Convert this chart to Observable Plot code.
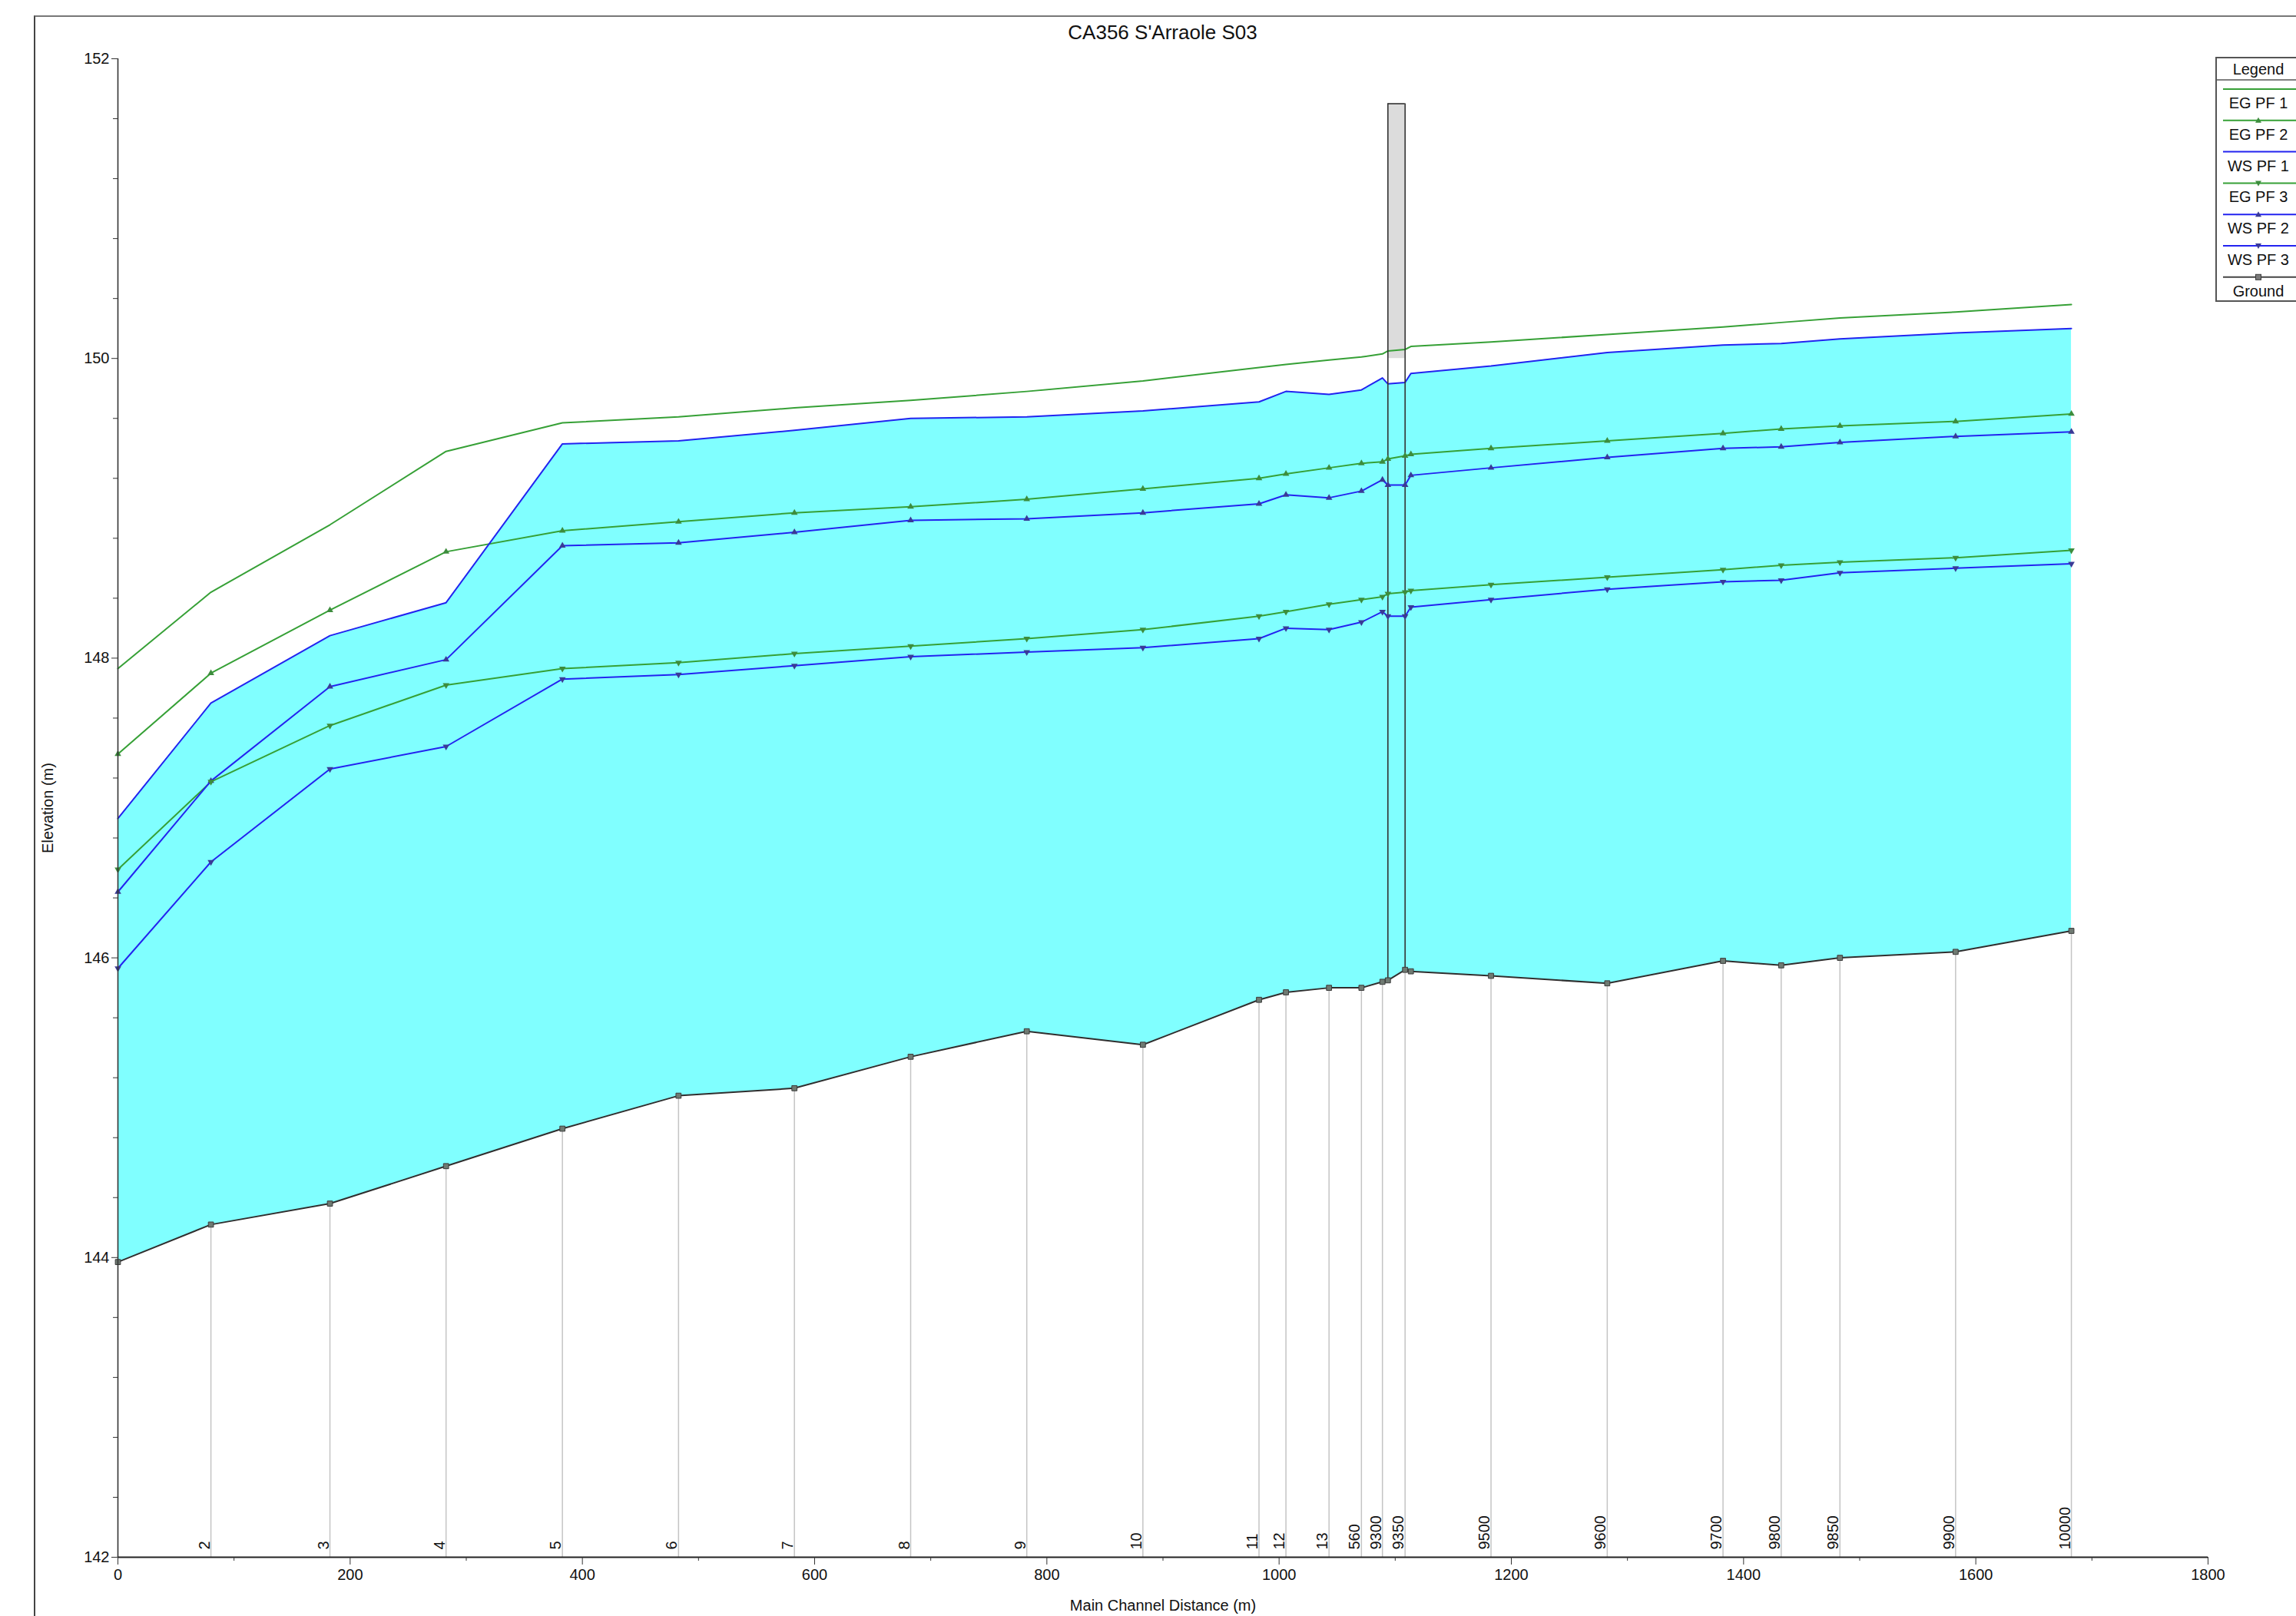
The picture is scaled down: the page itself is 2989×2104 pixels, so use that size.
<!DOCTYPE html>
<html><head><meta charset="utf-8">
<script src="https://cdn.jsdelivr.net/npm/d3@7"></script>
<script src="https://cdn.jsdelivr.net/npm/@observablehq/plot@0.6"></script>
<style>
html,body{margin:0;padding:0;background:#fff;overflow:hidden;}
#page{position:relative;width:2989px;height:2104px;overflow:hidden;font-family:"Liberation Sans",Arial,sans-serif;background:#fff;}
#frame{position:absolute;left:44px;top:20px;width:3000px;height:2200px;border-left:2px solid #444;border-top:2px solid #777;}
#title{position:absolute;left:153px;width:2721px;top:27px;text-align:center;font-size:26px;line-height:30px;color:#111;}
#chart{position:absolute;left:0;top:56px;}
#legend{position:absolute;left:2884px;top:74px;}
</style></head><body>
<div id="page"><div id="frame"></div><div id="title"></div><div id="chart"></div><div id="legend"></div></div>
<script>
// ---- data ----
const titleText = "CA356 S'Arraole S03";
const distance = [0, 80.1, 182.6, 282.6, 382.8, 482.8, 582.6, 682.7, 782.7, 882.7, 982.7, 1005.9, 1043.0, 1070.9, 1089.0, 1093.7, 1108.5, 1113.5, 1182.5, 1282.6, 1382.3, 1432.4, 1483.0, 1582.6, 1682.3];
const sectionLabel = ["", "2", "3", "4", "5", "6", "7", "8", "9", "10", "11", "12", "13", "560", "9300", "", "9350", "", "9500", "9600", "9700", "9800", "9850", "9900", "10000"];
const ground = [143.97, 144.22, 144.36, 144.61, 144.86, 145.08, 145.13, 145.34, 145.51, 145.42, 145.72, 145.77, 145.80, 145.80, 145.84, 145.85, 145.92, 145.91, 145.88, 145.83, 145.98, 145.95, 146.00, 146.04, 146.18];
const egPF1 = [147.93, 148.44, 148.89, 149.38, 149.57, 149.61, 149.67, 149.72, 149.78, 149.85, 149.94, 149.96, 149.99, 150.01, 150.03, 150.05, 150.06, 150.08, 150.11, 150.16, 150.21, 150.24, 150.27, 150.31, 150.36];
const wsPF1 = [146.93, 147.70, 148.15, 148.37, 149.43, 149.45, 149.52, 149.60, 149.61, 149.65, 149.71, 149.78, 149.76, 149.79, 149.87, 149.83, 149.84, 149.90, 149.95, 150.04, 150.09, 150.10, 150.13, 150.17, 150.20];
const egPF2 = [147.36, 147.90, 148.32, 148.71, 148.85, 148.91, 148.97, 149.01, 149.06, 149.13, 149.20, 149.23, 149.27, 149.30, 149.31, 149.33, 149.35, 149.36, 149.40, 149.45, 149.50, 149.53, 149.55, 149.58, 149.63];
const wsPF2 = [146.44, 147.18, 147.81, 147.99, 148.75, 148.77, 148.84, 148.92, 148.93, 148.97, 149.03, 149.09, 149.07, 149.115, 149.19, 149.155, 149.155, 149.22, 149.27, 149.34, 149.40, 149.41, 149.44, 149.48, 149.51];
const egPF3 = [146.59, 147.175, 147.55, 147.82, 147.93, 147.97, 148.03, 148.08, 148.13, 148.19, 148.28, 148.31, 148.36, 148.39, 148.41, 148.43, 148.44, 148.45, 148.49, 148.54, 148.59, 148.62, 148.64, 148.67, 148.72];
const wsPF3 = [145.93, 146.64, 147.26, 147.41, 147.86, 147.89, 147.95, 148.01, 148.04, 148.07, 148.13, 148.20, 148.19, 148.24, 148.31, 148.28, 148.28, 148.34, 148.39, 148.46, 148.51, 148.52, 148.57, 148.60, 148.63];
const bridgeFaces = [1093.7, 1108.5];      // upstream / downstream face distance
const bridgeChords = [150.0, 151.7];       // low chord, high chord
const bridgeGround = [145.85, 145.92];
const yMajorTicks = [142, 144, 146, 148, 150, 152];
const xMajorTicks = [0, 200, 400, 600, 800, 1000, 1200, 1400, 1600, 1800];
const legendNames = ["EG PF 1", "EG PF 2", "WS PF 1", "EG PF 3", "WS PF 2", "WS PF 3", "Ground"];

// ---- styles ----
const GREEN = "#36a036", BLUE = "#2323f0", GROUND = "#2e2e2e";
const GMARK = "#3d8c3d", BMARK = "#3a3a96";

const rows = distance.map((d, i) => ({
  d, label: sectionLabel[i], ground: ground[i],
  eg1: egPF1[i], ws1: wsPF1[i], eg2: egPF2[i], ws2: wsPF2[i], eg3: egPF3[i], ws3: wsPF3[i]
}));
const labeled = rows.filter(r => r.label !== "");
const bridge = [{x1: bridgeFaces[0], x2: bridgeFaces[1], low: bridgeChords[0], high: bridgeChords[1]}];
const faces = bridgeFaces.map((x, i) => ({x, g: bridgeGround[i], top: bridgeChords[1]}));

document.getElementById("title").textContent = titleText;

const yMinor = d3.range(0, 26).map(i => 142 + i * 0.4).filter(v => !yMajorTicks.some(t => Math.abs(t - v) < 1e-6));
const xMinor = d3.range(100, 1800, 200);

const chart = Plot.plot({
  width: 2989, height: 2048,
  marginLeft: 153, marginRight: 115, marginTop: 20, marginBottom: 77,
  x: {domain: [0, 1800]},
  y: {domain: [142, 152]},
  style: {fontFamily: "'Liberation Sans', Arial, sans-serif", fontSize: "20px", background: "transparent", color: "#111", overflow: "visible"},
  marks: [
    Plot.areaY(rows, {x: "d", y1: "ground", y2: "ws1", fill: "#80ffff"}),
    Plot.rect(bridge, {x1: "x1", x2: "x2", y1: "low", y2: "high", fill: "#dcdcdc"}),
    Plot.ruleX(labeled, {x: "d", y1: 142, y2: "ground", stroke: "#c4c4c4", strokeWidth: 1.5}),
    Plot.line(rows, {x: "d", y: "eg1", stroke: GREEN, strokeWidth: 2}),
    Plot.line(rows, {x: "d", y: "eg2", stroke: GREEN, strokeWidth: 2}),
    Plot.line(rows, {x: "d", y: "eg3", stroke: GREEN, strokeWidth: 2}),
    Plot.line(rows, {x: "d", y: "ws1", stroke: BLUE, strokeWidth: 2}),
    Plot.line(rows, {x: "d", y: "ws2", stroke: BLUE, strokeWidth: 2}),
    Plot.line(rows, {x: "d", y: "ws3", stroke: BLUE, strokeWidth: 2}),
    Plot.ruleX(faces, {x: "x", y1: "g", y2: "top", stroke: "#333", strokeWidth: 1.6}),
    Plot.ruleY(bridge, {y: "high", x1: "x1", x2: "x2", stroke: "#333", strokeWidth: 1.6}),
    Plot.line(rows, {x: "d", y: "ground", stroke: GROUND, strokeWidth: 2}),
    Plot.dot(rows, {x: "d", y: "eg2", symbol: "triangle", r: 3.2, fill: GMARK}),
    Plot.dot(rows, {x: "d", y: "ws2", symbol: "triangle", r: 3.2, fill: BMARK}),
    Plot.dot(rows, {x: "d", y: "eg3", symbol: "triangle", r: 3.2, rotate: 180, fill: GMARK}),
    Plot.dot(rows, {x: "d", y: "ws3", symbol: "triangle", r: 3.2, rotate: 180, fill: BMARK}),
    Plot.dot(rows, {x: "d", y: "ground", symbol: "square", r: 3.8, fill: "#6f7a72", stroke: "#3a3a3a", strokeWidth: 1}),
    Plot.text(labeled, {x: "d", y: 142, text: "label", rotate: -90, textAnchor: "start", lineAnchor: "bottom", dx: -2, dy: -10, fontSize: 20, fill: "#111"}),
    Plot.ruleX([0], {stroke: "#333", strokeWidth: 1.6}),
    Plot.ruleY([142], {stroke: "#222", strokeWidth: 2}),
    Plot.axisY({ticks: yMajorTicks, tickSize: 8, tickPadding: 3, tickFormat: d => String(d), label: null, stroke: "#333", fontSize: 20}),
    Plot.axisY({ticks: yMinor, tickSize: 6, tickFormat: () => "", label: null, stroke: "#333"}),
    Plot.axisX({ticks: xMajorTicks, tickSize: 10, tickPadding: 5, tickFormat: d => String(d), label: null, stroke: "#333", fontSize: 20}),
    Plot.axisX({ticks: xMinor, tickSize: 5, tickFormat: () => "", label: null, stroke: "#333"}),
    Plot.text(["Elevation (m)"], {text: d => d, frameAnchor: "left", textAnchor: "middle", lineAnchor: "middle", dx: -91, rotate: -90, fontSize: 20, fill: "#111"}),
    Plot.text(["Main Channel Distance (m)"], {text: d => d, frameAnchor: "bottom", textAnchor: "middle", lineAnchor: "middle", dy: 63, fontSize: 20, fill: "#111"})
  ]
});
document.getElementById("chart").appendChild(chart);

// ---- legend ----
const legendStyle = {
  "EG PF 1": {stroke: GREEN, mark: null},
  "EG PF 2": {stroke: GREEN, mark: "up", fill: GMARK},
  "WS PF 1": {stroke: BLUE, mark: null},
  "EG PF 3": {stroke: GREEN, mark: "down", fill: GMARK},
  "WS PF 2": {stroke: BLUE, mark: "up", fill: BMARK},
  "WS PF 3": {stroke: BLUE, mark: "down", fill: BMARK},
  "Ground": {stroke: "#444", mark: "square", fill: "#7a7a7a"}
};
const LW = 120, LH = 320;
const lsvg = d3.select("#legend").append("svg").attr("width", LW).attr("height", LH)
  .style("font-family", "'Liberation Sans', Arial, sans-serif").style("font-size", "20px");
lsvg.append("rect").attr("x", 1).attr("y", 1).attr("width", LW + 10).attr("height", 317).attr("fill", "#fff").attr("stroke", "#555").attr("stroke-width", 2);
lsvg.append("text").attr("x", 56).attr("y", 16).attr("dy", "0.35em").attr("text-anchor", "middle").attr("fill", "#111").text("Legend");
lsvg.append("line").attr("x1", 1).attr("x2", LW).attr("y1", 30).attr("y2", 30).attr("stroke", "#555").attr("stroke-width", 1.5);
legendNames.forEach((name, i) => {
  const st = legendStyle[name];
  const ly = 42 + i * 40.8;
  lsvg.append("line").attr("x1", 10).attr("x2", LW).attr("y1", ly).attr("y2", ly).attr("stroke", st.stroke).attr("stroke-width", 2);
  if (st.mark === "up") lsvg.append("path").attr("d", `M56,${ly - 4}L60,${ly + 3}L52,${ly + 3}Z`).attr("fill", st.fill);
  if (st.mark === "down") lsvg.append("path").attr("d", `M56,${ly + 4}L60,${ly - 3}L52,${ly - 3}Z`).attr("fill", st.fill);
  if (st.mark === "square") lsvg.append("rect").attr("x", 52.5).attr("y", ly - 3.5).attr("width", 7).attr("height", 7).attr("fill", st.fill).attr("stroke", "#3a3a3a");
  lsvg.append("text").attr("x", 56).attr("y", ly + 18).attr("dy", "0.35em").attr("text-anchor", "middle").attr("fill", "#111").text(name);
});
</script>
</body></html>
